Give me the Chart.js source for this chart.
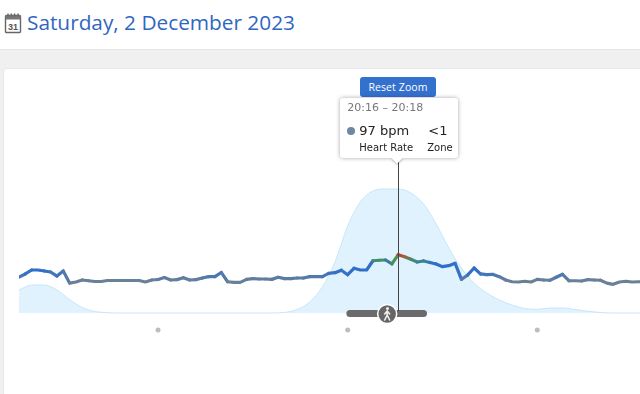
<!DOCTYPE html>
<html>
<head>
<meta charset="utf-8">
<script src="https://cdn.jsdelivr.net/npm/chart.js@4"></script>
<style>
html,body{margin:0;padding:0;background:#fff;width:640px;height:394px;overflow:hidden;font-family:"Open Sans",sans-serif}
#title{position:absolute;left:27px;top:6px;font-size:20.8px;line-height:32px;color:#2f66c2;white-space:nowrap}
#cal{position:absolute;left:4px;top:12px}
#band{position:absolute;left:0;top:49px;width:640px;height:345px;background:#f0f0f0;border-top:1px solid #e6e6e6;box-sizing:border-box}
#card{position:absolute;left:3px;top:68px;width:660px;height:340px;background:#fff;border:1px solid #e8e8e8;border-radius:4px;box-sizing:border-box}
canvas{position:absolute;left:0;top:0}
#reset{position:absolute;left:360px;top:77px;width:76px;height:20px;background:#3470cd;color:#fff;border-radius:3px;font-size:10.5px;line-height:20px;text-align:center;letter-spacing:.1px}
#tip{position:absolute;top:98px;width:118px;height:60px;background:#fff;border-radius:3px;box-shadow:0 0 4px rgba(0,0,0,.35);color:#222;font-family:"DejaVu Sans",sans-serif}
#tip:after{content:"";position:absolute;left:53px;top:56px;width:8px;height:8px;background:#fff;transform:rotate(45deg);box-shadow:1px 1px 2px rgba(0,0,0,.25)}
#tip span{position:absolute;white-space:nowrap}
#tdot{left:7px;top:29px;width:8px;height:8px;border-radius:50%;background:#6c88a3}
</style>
</head>
<body>
<div id="band"></div>
<div id="card"></div>
<svg id="cal" width="18" height="22" viewBox="0 0 18 22">
  <rect x="1.5" y="3.5" width="15" height="17" rx="1" fill="#fff" stroke="#666" stroke-width="1.4"/>
  <rect x="1.5" y="3.5" width="15" height="4" fill="#777"/>
  <path d="M4 1.5v3M7.3 1.5v3M10.6 1.5v3M14 1.5v3" stroke="#666" stroke-width="1.4"/>
  <text x="9" y="17.5" font-size="9" font-weight="bold" text-anchor="middle" fill="#555" font-family="Liberation Sans">31</text>
</svg>
<div id="title">Saturday, 2 December 2023</div>
<canvas id="c" width="640" height="394"></canvas>
<div id="reset">Reset Zoom</div>
<div id="tip">
  <span style="left:7px;top:3px;font-size:11px;color:#777">20:16 – 20:18</span>
  <span id="tdot"></span>
  <span style="left:19px;top:25px;font-size:13px">97 bpm</span>
  <span style="left:88px;top:25px;font-size:13px">&lt;1</span>
  <span style="left:19px;top:44px;font-size:10px">Heart Rate</span>
  <span style="left:87px;top:44px;font-size:10px">Zone</span>
</div>
<script>
// Heart rate, one sample every 2 minutes from 18:16
const hrStart = 1096, hrStep = 2;
const heartRate = [78.9,81.4,84.6,84.6,83.8,83,79.7,83.8,74,74.9,76.5,75.9,75.3,75.3,76.1,76.1,76.1,76.1,76.1,76.1,
74.9,76.5,76.9,78.5,76.5,76.8,78.4,76.5,76.8,78.1,79.2,79.2,82.6,75.1,74.6,74.6,77,77.6,77.3,77.3,
77,78.7,77.6,77.6,78.1,78.1,79.2,79.2,79.2,81.9,82.4,84.4,80.8,86,84.6,84.6,92.1,92.5,92.7,89.5,
97,95.4,93.3,91.1,91.9,90.7,89.5,87.3,88.1,90,77,80.6,86.2,81.4,80.8,81,79.2,76.5,75.1,74.9,
75.5,74.9,77,76.5,76.3,78.7,81.1,75.9,75.9,75.7,76.8,76.5,76.3,74,73,74.9,75.5,74.9,75.1,75.1];
// Steps, one sample every 4 minutes from 18:16
const stepStart = 1096, stepStep = 4;
const steps = [23,28,28,23,13.5,5.5,1.5,0.3,0,0,0,0,0,0,0,0,0,0,0,0,0,0.6,3.5,11,26,51,87,111,122,124,124,120,109,89,65,45,30,20,13,8,4.5,3.7,5,5,3.5,1.7,0.5,0,0,0,0];
const hourTicks = [1140,1200,1260];
const tickLabels = ['19:00','20:00','21:00'];
const walkStart = 1200.7, walkEnd = 1224, walkMark = 1212.5;
const selectedMinute = 1216;
const xMin = 1096, xMax = 1292.5;

const stops = [[76,[106,128,152]],[84,[47,111,201]],[90,[47,111,201]],[93,[70,150,90]],[97,[220,50,40]]];
function hrColor(v){
  if(v<=stops[0][0]) return 'rgb('+stops[0][1]+')';
  for(let i=1;i<stops.length;i++){
    if(v<=stops[i][0]){
      const t=(v-stops[i-1][0])/(stops[i][0]-stops[i-1][0]);
      const a=stops[i-1][1],b=stops[i][1];
      return 'rgb('+a.map((c,k)=>Math.round(c+(b[k]-c)*t))+')';
    }
  }
  return 'rgb('+stops[stops.length-1][1]+')';
}
const markers = {
  id:'markers',
  afterDatasetsDraw(chart){
    const {ctx,scales:{x,steps:s}}=chart;
    const px=x.getPixelForValue(selectedMinute);
    ctx.save();
    ctx.strokeStyle='#444';ctx.lineWidth=1;
    ctx.beginPath();ctx.moveTo(Math.floor(px)+.5,158);ctx.lineTo(Math.floor(px)+.5,s.getPixelForValue(2));ctx.stroke();
    const cx=x.getPixelForValue(walkMark),cy=s.getPixelForValue(-1);
    ctx.beginPath();ctx.arc(cx,cy,9.5,0,Math.PI*2);ctx.fillStyle='#666';ctx.fill();
    ctx.lineWidth=1.5;ctx.strokeStyle='#fff';ctx.stroke();
    ctx.fillStyle='#eee';ctx.strokeStyle='#eee';ctx.lineWidth=1.6;ctx.lineCap='round';
    ctx.beginPath();ctx.arc(cx+.3,cy-5.5,1.5,0,Math.PI*2);ctx.fill();
    ctx.beginPath();
    ctx.moveTo(cx,cy-3);ctx.lineTo(cx,cy+1);ctx.lineTo(cx-2.5,cy+6);
    ctx.moveTo(cx,cy+1);ctx.lineTo(cx+2.5,cy+6);
    ctx.moveTo(cx,cy-3);ctx.lineTo(cx-2.5,cy);
    ctx.moveTo(cx,cy-3);ctx.lineTo(cx+2.5,cy);
    ctx.stroke();
    ctx.restore();
    document.getElementById('tip').style.left=(px-58)+'px';
  }
};
new Chart(document.getElementById('c'),{
  type:'line',
  data:{datasets:[
    {label:'Walk',yAxisID:'steps',data:[{x:walkStart,y:-0.5},{x:walkEnd,y:-0.5}],borderColor:'#6b6b6b',borderWidth:7,borderCapStyle:'round',pointRadius:0,order:1},
    {label:'Heart Rate',yAxisID:'hr',data:heartRate.map((v,i)=>({x:hrStart+i*hrStep,y:v})),borderWidth:3.2,pointRadius:0,tension:0,borderJoinStyle:'round',borderCapStyle:'round',
      segment:{borderColor:c=>hrColor((c.p0.parsed.y+c.p1.parsed.y)/2)},order:2},
    {label:'Hours',yAxisID:'steps',data:hourTicks.map((m,i)=>({x:m,y:-17,t:tickLabels[i]})),showLine:false,pointRadius:2.5,pointBackgroundColor:'#bdbdbd',pointBorderWidth:0,order:3},
    {label:'Steps',yAxisID:'steps',data:steps.map((v,i)=>({x:stepStart+i*stepStep,y:v})),fill:{value:0},backgroundColor:'#e0f2fe',borderColor:'#c6e6f9',borderWidth:1,pointRadius:0,cubicInterpolationMode:'monotone',order:4}
  ]},
  options:{
    responsive:false,animation:false,devicePixelRatio:1,
    layout:{autoPadding:false,padding:{left:19,top:100,right:0,bottom:54}},
    plugins:{legend:{display:false},tooltip:{enabled:false}},
    events:[],
    scales:{
      x:{type:'linear',min:xMin,max:xMax,display:false},
      steps:{min:-27,max:213,display:false},
      hr:{min:27.9,max:222.3,display:false}
    }
  },
  plugins:[markers]
});
</script>
</body>
</html>
